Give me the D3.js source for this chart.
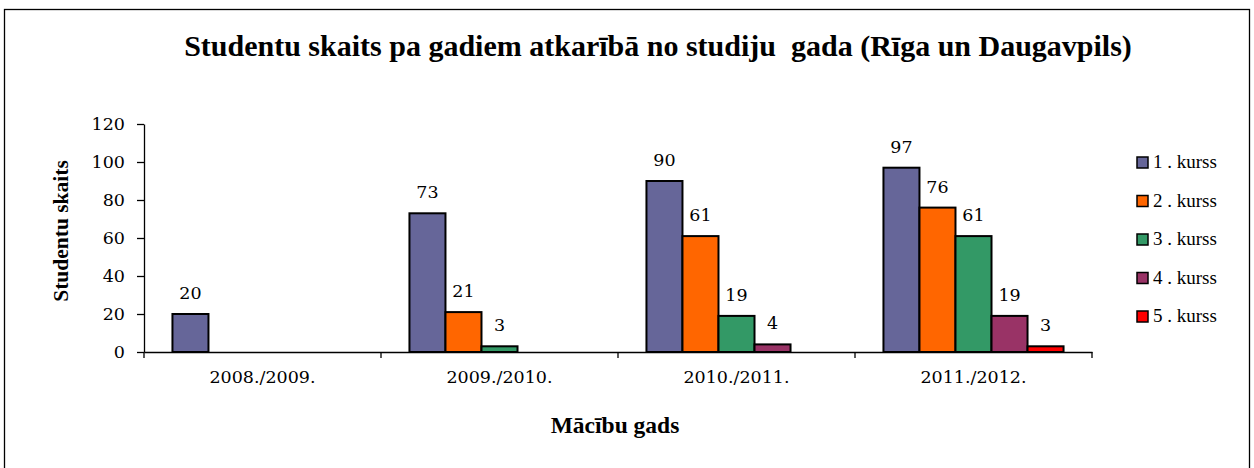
<!DOCTYPE html>
<html lang="lv">
<head>
    <meta charset="UTF-8">
    <script src="https://cdnjs.cloudflare.com/ajax/libs/d3/7.8.5/d3.min.js"></script>
    <style>
        body { margin: 0; background: #fff; }
        text { font-family: "Liberation Serif", "Times New Roman", serif; fill: #000; }
        .num, .tick text { font-family: "DejaVu Serif", serif; font-size: 17.5px; }
        .domain, .tick line { stroke: #000; stroke-width: 1.3px; }
    </style>
</head>
<body>
    <svg width="1254" height="468"></svg>
    <script>
        const years = ['2008./2009.', '2009./2010.', '2010./2011.', '2011./2012.'];
        const courses = ['1. kurss', '2. kurss', '3. kurss', '4. kurss', '5. kurss'];
        const colors = ['#666699', '#FF6600', '#339966', '#993366', '#FF0000'];
        // one array per course, null = no students that year
        const kurss1 = [20, 73, 90, 97];
        const kurss2 = [null, 21, 61, 76];
        const kurss3 = [null, 3, 19, 61];
        const kurss4 = [null, null, 4, 19];
        const kurss5 = [null, null, null, 3];
        const yTicks = [0, 20, 40, 60, 80, 100, 120];

        const series = [kurss1, kurss2, kurss3, kurss4, kurss5];
        const svg = d3.select('svg');

        svg.append('rect')
            .attr('x', 4.5).attr('y', 9.5)
            .attr('width', 1245).attr('height', 480)
            .attr('fill', 'none').attr('stroke', '#000').attr('stroke-width', 1.3);

        const x = d3.scaleBand().domain(years).range([144, 1092]);
        const xInner = d3.scaleBand().domain(courses)
            .range([0, x.bandwidth()]).paddingOuter(0.79);
        const y = d3.scaleLinear().domain([0, 120]).range([352, 124]);

        svg.append('g')
            .attr('transform', 'translate(0,352)')
            .call(d3.axisBottom(x).tickSize(0).tickSizeOuter(0).tickPadding(19));
        // category boundary ticks
        svg.append('g').selectAll('line')
            .data(years.concat(['end']))
            .join('line')
            .attr('x1', (d, i) => 144 + i * x.bandwidth())
            .attr('x2', (d, i) => 144 + i * x.bandwidth())
            .attr('y1', 352).attr('y2', 358)
            .attr('stroke', '#000').attr('stroke-width', 1.3);

        svg.append('g')
            .attr('transform', 'translate(144,0)')
            .call(d3.axisLeft(y).tickValues(yTicks).tickSize(7).tickSizeOuter(0).tickPadding(12));

        series.forEach((vals, s) => {
            const g = svg.append('g');
            const pts = years.map((yr, i) => ({ yr, v: vals[i] })).filter(d => d.v !== null);
            g.selectAll('rect')
                .data(pts)
                .join('rect')
                .attr('x', d => x(d.yr) + xInner(courses[s]))
                .attr('y', d => y(d.v))
                .attr('width', xInner.bandwidth())
                .attr('height', d => y(0) - y(d.v))
                .attr('fill', colors[s])
                .attr('stroke', '#000')
                .attr('stroke-width', 2);
            g.selectAll('text')
                .data(pts)
                .join('text')
                .attr('class', 'num')
                .attr('x', d => x(d.yr) + xInner(courses[s]) + xInner.bandwidth() / 2)
                .attr('y', d => y(d.v) - 15)
                .attr('text-anchor', 'middle')
                .text(d => d.v);
        });

        svg.append('text')
            .attr('x', 658).attr('y', 56)
            .attr('text-anchor', 'middle')
            .style('font-size', '30px').style('font-weight', 'bold')
            .style('white-space', 'pre')
            .text('Studentu skaits pa gadiem atkarībā no studiju  gada (Rīga un Daugavpils)');

        svg.append('text')
            .attr('transform', 'translate(68,231) rotate(-90)')
            .attr('text-anchor', 'middle')
            .style('font-size', '21.5px').style('font-weight', 'bold')
            .text('Studentu skaits');

        svg.append('text')
            .attr('x', 615).attr('y', 433)
            .attr('text-anchor', 'middle')
            .style('font-size', '23.5px').style('font-weight', 'bold')
            .text('Mācību gads');

        const legend = svg.append('g').selectAll('g')
            .data(courses)
            .join('g')
            .attr('transform', (d, i) => `translate(1137,${157 + i * 38.5})`);
        legend.append('rect')
            .attr('width', 11).attr('height', 11)
            .attr('fill', (d, i) => colors[i])
            .attr('stroke', '#000').attr('stroke-width', 1.5);
        legend.append('text')
            .attr('x', 16).attr('y', 11)
            .style('font-size', '19px')
            .style('white-space', 'pre')
            .text(d => d.replace('.', ' .'));
    </script>
</body>
</html>
